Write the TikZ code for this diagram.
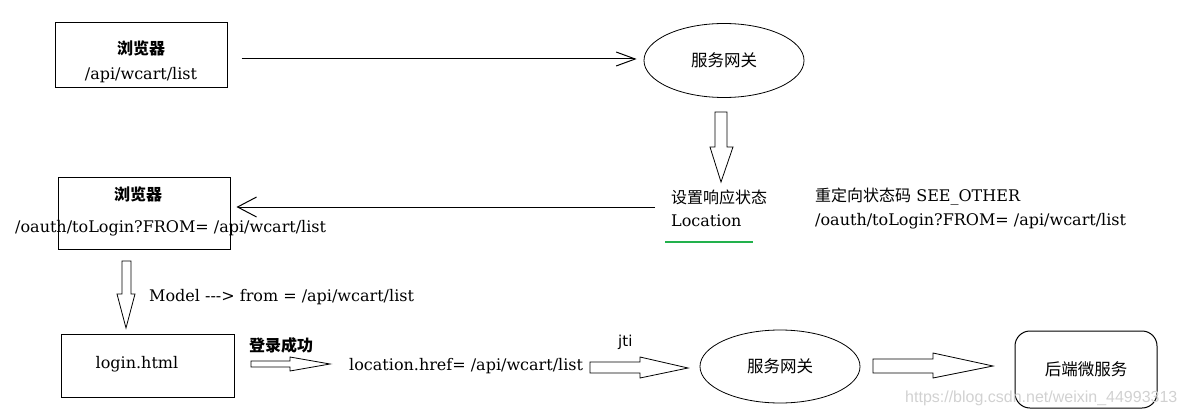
\documentclass[tikz,border=0pt]{standalone}
\usepackage{fontspec}
\setmainfont{DejaVu Serif}
\newfontfamily\cjk{Noto Sans CJK SC}
\newfontfamily\jtifont{DejaVu Sans}
\newfontfamily\markfont{Liberation Sans}
\usetikzlibrary{arrows.meta,shapes.geometric}

\definecolor{okgreen}{RGB}{34,177,76}

\tikzset{
    box/.style={draw, line width=1pt, inner sep=0pt},
    gate/.style={ellipse, draw, line width=0.8pt, inner sep=0pt,
        minimum width=160pt, minimum height=74pt, font=\cjk\fontsize{16.5}{18}\selectfont},
    txt/.style={inner sep=0pt, font=\fontsize{16}{19}\selectfont},
    zh/.style={inner sep=0pt, font=\cjk\fontsize{16}{18}\selectfont},
    zhbold/.style={inner sep=0pt, font=\cjk\bfseries\fontsize{16}{18}\selectfont},
    link/.style={line width=1pt, -{Straight Barb[length=19pt,width=#1]}},
    fat/.style={draw, line width=0.8pt, line join=miter}
}

\begin{document}
\begin{tikzpicture}[x=1pt, y=-1pt]
    \useasboundingbox (0,0) rectangle (1185,417);

    \node[box, minimum width=172pt, minimum height=65pt] (browser1) at (141,55.5) {};
    \node[zhbold] (browser1title) at (141,48) {浏览器};
    \node[txt] (browser1url) at (141,75) {/api/wcart/list};

    \node[gate] (gateway1) at (724,60.5) {服务网关};
    \draw[link=14pt, shorten <=14pt, shorten >=7pt] (browser1.east |- 0,59) -- (gateway1.west |- 0,59);

    \draw[fat] (715,112) -- (727,112) -- (727,147) -- (733,147) -- (721,182)
        -- (710,147) -- (715,147) -- cycle;

    \node[zh, anchor=west] (status) at (671,197) {设置响应状态};
    \node[txt, anchor=west] (location) at (671,221) {Location};
    \draw[okgreen, line width=2pt] (665,242) -- (753,242);
    \node[txt, anchor=west] (redirect) at (815,197) {{\cjk 重定向状态码} SEE\_OTHER};
    \node[txt, anchor=west] (redirecturl) at (815,221) {/oauth/toLogin?FROM= /api/wcart/list};

    \node[box, minimum width=172pt, minimum height=72pt] (browser2) at (144,213) {};
    \node[zhbold] (browser2title) at (138,194) {浏览器};
    \node[txt, anchor=west] (browser2url) at (15,228) {/oauth/toLogin?FROM= /api/wcart/list};
    \coordinate (back) at (655,207);
    \draw[link=20pt, shorten >=6pt] (back) -- (back -| browser2.east);

    \draw[fat] (122,261) -- (131,261) -- (131,294) -- (135,294) -- (126,328)
        -- (117,294) -- (122,294) -- cycle;
    \node[txt, anchor=west] (model) at (149,297) {Model -{}-{}-> from = /api/wcart/list};

    \node[box, minimum width=173pt, minimum height=63pt] (login) at (147.5,365.5) {};
    \node[txt] (logintext) at (137,364) {login.html};
    \node[zhbold, anchor=west] (success) at (249,345) {登录成功};
    \draw[fat] (251,361) -- (290,361) -- (290,357) -- (330,364) -- (290,371)
        -- (290,367) -- (251,367) -- cycle;
    \node[txt, anchor=west] (href) at (349,366) {location.href= /api/wcart/list};

    \node[inner sep=0pt, anchor=west, font=\jtifont\fontsize{15}{18}\selectfont] (jti) at (618,342) {jti};
    \draw[fat] (590,362) -- (640,362) -- (640,357) -- (688,368) -- (640,378)
        -- (640,373) -- (590,373) -- cycle;

    \node[gate, minimum height=73pt] (gateway2) at (780,366.5) {服务网关};
    \draw[fat] (873,359) -- (933,359) -- (933,353) -- (993,366) -- (933,378)
        -- (933,373) -- (873,373) -- cycle;

    \node[box, line width=1pt, rounded corners=15pt, minimum width=142pt, minimum height=77pt,
        font=\cjk\fontsize{16.5}{18}\selectfont] (backend) at (1086,369.5) {后端微服务};

    \node[inner sep=0pt, anchor=west, text=black!18, font=\markfont\fontsize{16}{19}\selectfont]
        (mark) at (905,398) {https://blog.csdn.net/weixin\_44993313};
\end{tikzpicture}
\end{document}
